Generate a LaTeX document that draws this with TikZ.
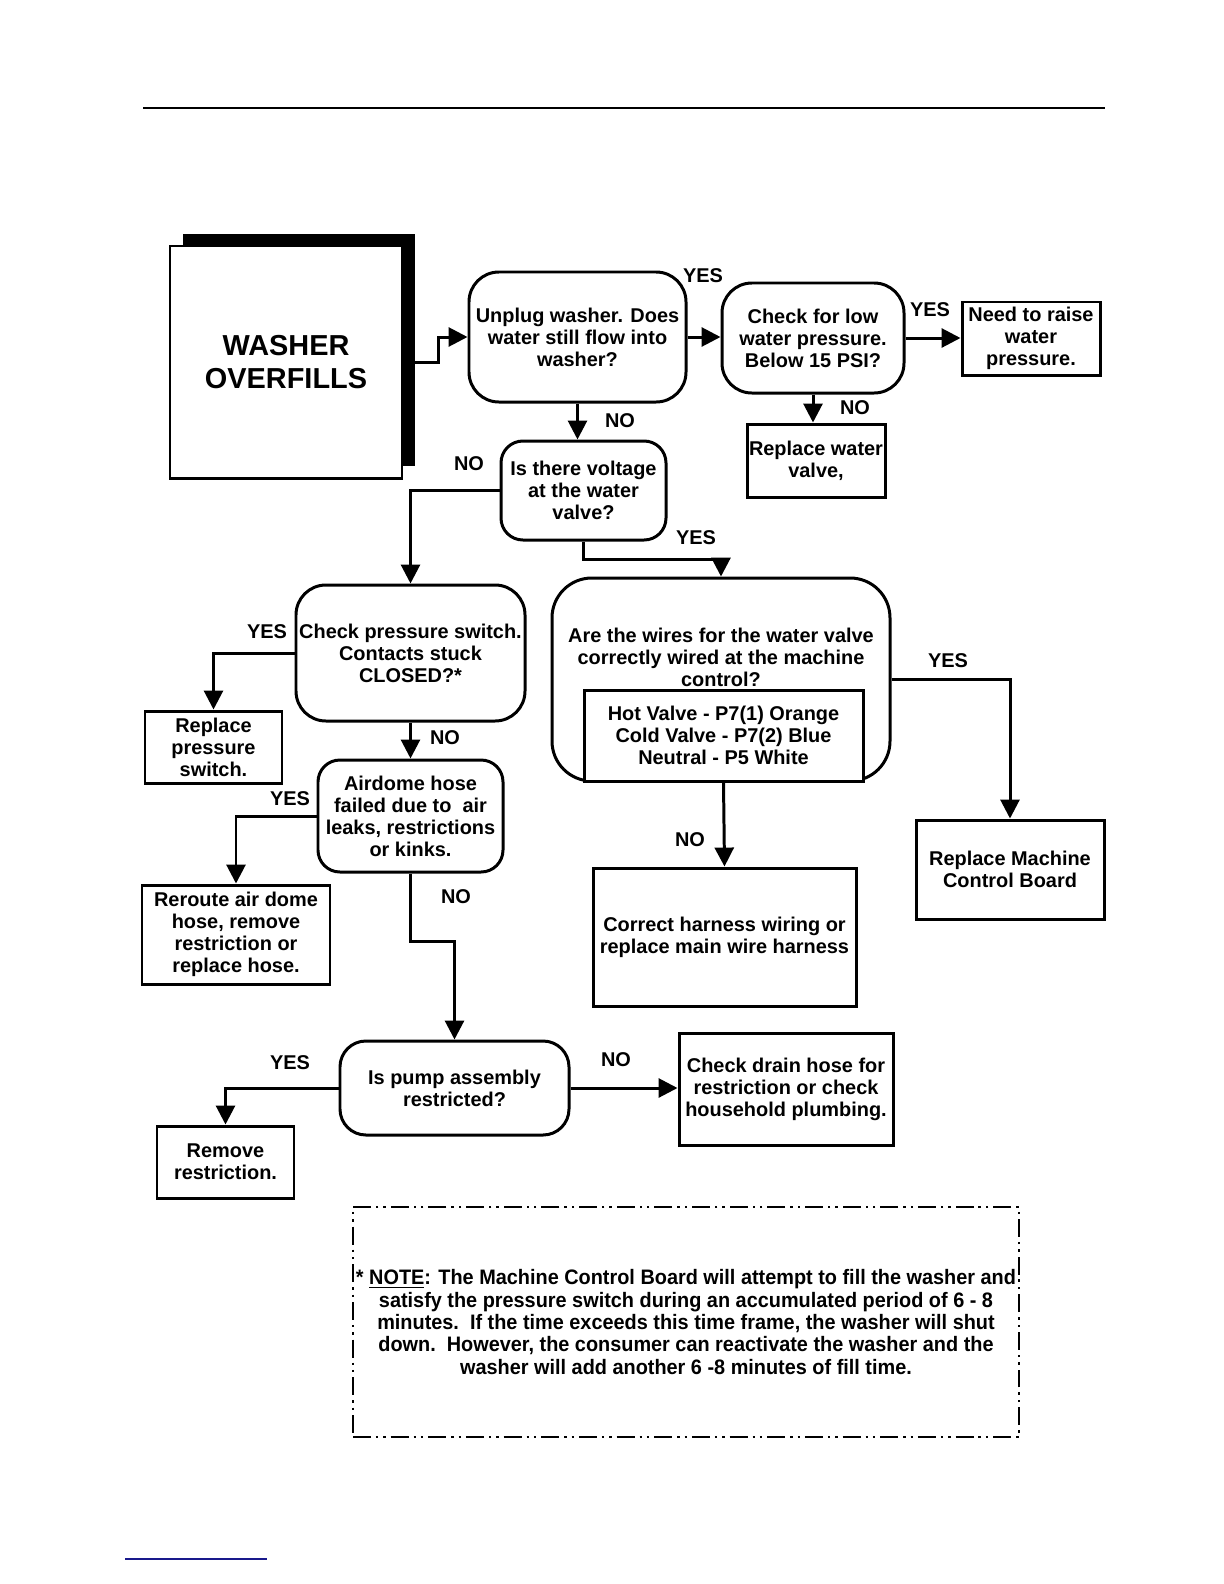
\documentclass[tikz,border=0pt]{standalone}
\usepackage{fontspec}
\setmainfont{Liberation Sans}
\newfontfamily\notefont[FakeStretch=0.95]{Liberation Sans}
\usepgflibrary{arrows.meta}
\definecolor{navy}{RGB}{25,25,140}
\tikzset{
  every node/.style={font=\bfseries\fontsize{10}{11}\selectfont, align=center, inner sep=0pt},
  askbox/.style={draw, line width=1.5pt, rounded corners=13pt, fill=white},
  dobox/.style={draw, line width=1.5pt, fill=white},
  notebox/.style={draw, line width=1pt, dash pattern=on 9pt off 2.5pt on 1.2pt off 2.5pt on 1.2pt off 2.5pt,
    font=\notefont\bfseries\fontsize{10.5}{11.25}\selectfont},
  flow/.style={line width=1.5pt, -{Triangle[length=9.5pt,width=9.5pt]}},
}
\def\pbox#1#2#3#4#5#6#7{
  % 1: name
  % 2: style
  % 3: left
  % 4: top
  % 5: right
  % 6: bottom
  % 7: text
  \node[#2, minimum width={(#5-#3)*0.5bp}, minimum height={(#6-#4)*0.5bp}] (#1) at ({(#3+#5)/2},{(#4+#6)/2}) {#7};
}
\begin{document}
\begin{tikzpicture}[x=0.5bp,y=-0.5bp]
  \useasboundingbox (0,0) rectangle (1224,1584);
  \draw[line width=1.5pt] (143,108) -- (1105,108);
  % start box with its shadow
  \fill (183,234) rectangle (415,466);
  \pbox{washer}{dobox, font=\bfseries\fontsize{14.5}{16.5}\selectfont}{170}{246}{402}{478}{WASHER\\OVERFILLS}
  % questions
  \pbox{unplug}{askbox, rounded corners=15pt}{469}{272}{686}{402}{Unplug washer. Does\\water still flow into\\washer?}
  \pbox{check}{askbox, rounded corners=15pt}{722}{283}{904}{393}{Check for low\\water pressure.\\Below 15 PSI?}
  \pbox{voltage}{askbox, rounded corners=11pt}{501}{441}{666}{540}{Is there voltage\\at the water\\valve?}
  \pbox{pressure}{askbox, rounded corners=15pt}{296}{585}{525}{721}{Check pressure switch.\\Contacts stuck\\CLOSED?*}
  \pbox{airdome}{askbox, rounded corners=11pt}{318}{760}{503}{872}{Airdome hose\\failed due to\ \ air\\leaks, restrictions\\or kinks.}
  \pbox{pump}{askbox}{340}{1041}{569}{1135}{Is pump assembly\\restricted?}
  \pbox{wires}{askbox, rounded corners=20pt}{552}{578}{890}{781}{}
  \node (wiresq) at (721,657) {Are the wires for the water valve\\correctly wired at the machine\\control?};
  \pbox{wiresinfo}{dobox}{584}{690}{863}{781}{Hot Valve - P7(1) Orange\\Cold Valve - P7(2) Blue\\Neutral - P5 White}
  % actions
  \pbox{need}{dobox}{962}{302}{1100}{375}{Need to raise\\water\\pressure.}
  \pbox{rvalve}{dobox}{747}{424}{885}{497}{Replace water\\valve,}
  \pbox{rpswitch}{dobox}{145}{711}{282}{783}{Replace\\pressure\\switch.}
  \pbox{reroute}{dobox}{142}{885}{330}{984}{Reroute air dome\\hose, remove\\restriction or\\replace hose.}
  \pbox{harness}{dobox}{593}{868}{856}{1006}{Correct harness wiring or\\replace main wire harness}
  \pbox{board}{dobox}{916}{820}{1104}{919}{Replace Machine\\Control Board}
  \pbox{remove}{dobox}{157}{1126}{294}{1198}{Remove\\restriction.}
  \pbox{drain}{dobox}{679}{1033}{893}{1145}{Check drain hose for\\restriction or check\\household plumbing.}
  % connectors
  \draw[flow] (washer.east) -- ++(35,0) |- (unplug.west);
  \draw[flow] (unplug.east) -- (unplug.east -| check.west);
  \draw[flow] (check.east) -- (check.east -| need.west);
  \draw[flow] (check.south) -- (check.south |- rvalve.north);
  \draw[flow] (unplug.south) -- (unplug.south |- voltage.north);
  \draw[flow] (voltage.west) -| (pressure.north);
  \draw[flow] (voltage.south) -- ++(0,18) -| (wires.north);
  \draw[flow] (pressure.west) -| (rpswitch.north);
  \draw[flow] (pressure.south) -- (airdome.north);
  \draw[flow] (airdome.west) -| (reroute.north);
  \draw[flow] (airdome.south) -- ++(0,68) -| (pump.north);
  \draw[flow] (pump.west) -| (remove.north);
  \draw[flow] (pump.east) -- (pump.east -| drain.west);
  \draw[flow] (wiresinfo.south) -- (harness.north);
  \draw[flow] (wires.east) -| (board.north);
  % answers
  \node (yes1) at (703,276) {YES};
  \node (yes2) at (930,310) {YES};
  \node (no1) at (855,408) {NO};
  \node (no2) at (620,421) {NO};
  \node (no3) at (469,464) {NO};
  \node (yes3) at (696,538) {YES};
  \node (yes4) at (267,632) {YES};
  \node (no4) at (445,738) {NO};
  \node (yes5) at (290,799) {YES};
  \node (no5) at (456,897) {NO};
  \node (yes6) at (948,661) {YES};
  \node (no6) at (690,840) {NO};
  \node (yes7) at (290,1063) {YES};
  \node (no7) at (616,1060) {NO};
  % note
  \pbox{note}{notebox}{353}{1207}{1019}{1437}{* \underline{NOTE}: The Machine Control Board will attempt to fill the washer and\\satisfy the pressure switch during an accumulated period of 6 - 8\\minutes.\ \ If the time exceeds this time frame, the washer will shut\\down.\ \ However, the consumer can reactivate the washer and the\\washer will add another 6 -8 minutes of fill time.}
  \draw[line width=1pt, navy] (125,1559) -- (267,1559);
\end{tikzpicture}
\end{document}
